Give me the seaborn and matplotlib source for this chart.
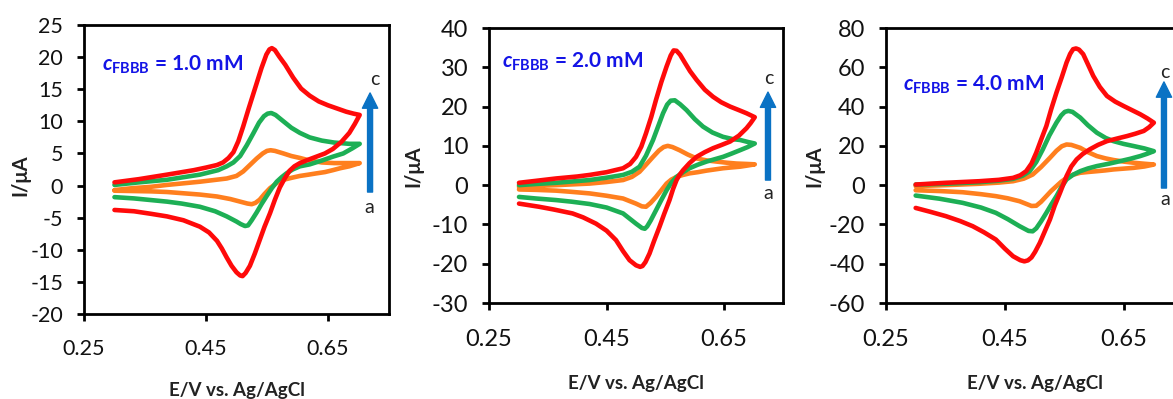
import matplotlib
matplotlib.use("Agg")
import matplotlib.pyplot as plt
import seaborn as sns
import pandas as pd

# ---------------- data ----------------
# Each list runs forward scan 0.30 -> 0.70 V, then back 0.70 -> 0.30 V.
# Panel 1: c_FBBB = 1.0 mM
E_1a = [0.30, 0.33, 0.359, 0.386, 0.44, 0.484, 0.500, 0.511, 0.522, 0.533, 0.543, 0.550, 0.556, 0.563,
        0.577, 0.590, 0.604, 0.620, 0.640, 0.660, 0.680, 0.702,
        0.685, 0.670, 0.658, 0.645, 0.631, 0.618, 0.604, 0.590, 0.577, 0.566, 0.555, 0.546, 0.538,
        0.531, 0.525, 0.518, 0.506, 0.49, 0.468, 0.44, 0.413, 0.386, 0.359, 0.33, 0.30]
I_1a = [-0.7, -0.4, -0.2, 0.1, 0.6, 1.1, 1.5, 2.2, 3.2, 4.2, 5.0, 5.4, 5.5, 5.4,
        5.0, 4.6, 4.3, 3.9, 3.6, 3.5, 3.5, 3.5,
        3.0, 2.7, 2.4, 2.1, 1.9, 1.7, 1.5, 1.2, 0.9, 0.4, -0.4, -1.3, -2.2,
        -2.7, -2.9, -2.8, -2.5, -2.1, -1.7, -1.4, -1.2, -1.0, -0.9, -0.85, -0.8]
E_1b = [0.30, 0.34, 0.386, 0.44, 0.47, 0.484, 0.495, 0.506, 0.517, 0.528, 0.537, 0.545, 0.551, 0.557,
        0.564, 0.577, 0.590, 0.604, 0.620, 0.640, 0.660, 0.685, 0.702,
        0.690, 0.675, 0.658, 0.640, 0.620, 0.604, 0.592, 0.582, 0.574, 0.566, 0.558, 0.549, 0.541,
        0.533, 0.525, 0.519, 0.514, 0.507, 0.500, 0.484, 0.465, 0.44, 0.41, 0.386, 0.332, 0.30]
I_1b = [0.1, 0.5, 0.9, 1.7, 2.4, 3.0, 3.6, 4.6, 6.3, 8.2, 9.8, 10.8, 11.2, 11.3,
        11.0, 10.0, 9.0, 8.2, 7.5, 7.0, 6.7, 6.5, 6.5,
        5.8, 5.0, 4.5, 3.9, 3.3, 3.0, 2.5, 1.9, 1.3, 0.6, -0.4, -1.7, -2.9,
        -4.2, -5.4, -6.2, -6.3, -6.0, -5.6, -4.8, -4.0, -3.3, -2.8, -2.5, -2.0, -1.8]
E_1c = [0.30, 0.34, 0.386, 0.43, 0.45, 0.468, 0.478, 0.487, 0.495, 0.503, 0.511, 0.520, 0.530, 0.541,
        0.549, 0.554, 0.558, 0.563, 0.570, 0.580, 0.593, 0.606, 0.620, 0.635, 0.650, 0.665, 0.680,
        0.692, 0.702,
        0.694, 0.685, 0.672, 0.658, 0.645, 0.631, 0.617, 0.604, 0.595, 0.587, 0.579, 0.571, 0.563,
        0.555, 0.546, 0.538, 0.530, 0.522, 0.515, 0.510, 0.506, 0.500, 0.492, 0.484, 0.476, 0.468,
        0.455, 0.44, 0.413, 0.386, 0.36, 0.332, 0.30]
I_1c = [0.5, 1.0, 1.7, 2.4, 2.8, 3.2, 3.6, 4.3, 5.2, 6.9, 9.2, 12.0, 15.0, 18.3,
        20.4, 21.2, 21.4, 21.1, 20.1, 18.8, 16.8, 15.1, 14.0, 13.1, 12.5, 12.0, 11.5,
        11.2, 11.0,
        9.6, 8.2, 6.8, 5.7, 5.0, 4.5, 4.0, 3.5, 3.0, 2.3, 1.1, -0.3, -2.2,
        -4.3, -6.4, -8.5, -10.6, -12.5, -13.6, -14.1, -14.0, -13.5, -12.5, -11.2, -9.8, -8.6,
        -7.3, -6.4, -5.4, -4.8, -4.4, -4.0, -3.8]

# Panel 2: c_FBBB = 2.0 mM
E_2a = [0.301, 0.33, 0.364, 0.421, 0.45, 0.478, 0.493, 0.506, 0.517, 0.529, 0.539, 0.547, 0.554,
        0.562, 0.574, 0.588, 0.603, 0.62, 0.637, 0.655, 0.671, 0.688, 0.702,
        0.69, 0.677, 0.662, 0.648, 0.634, 0.62, 0.605, 0.591, 0.58, 0.569, 0.560, 0.552, 0.543,
        0.534, 0.525, 0.517, 0.510, 0.50, 0.478, 0.45, 0.421, 0.39, 0.364, 0.33, 0.301]
I_2a = [-0.4, -0.2, 0.0, 0.4, 0.8, 1.3, 2.1, 3.4, 5.2, 7.2, 8.8, 9.7, 10.0,
        9.7, 8.9, 7.8, 6.8, 6.3, 6.0, 5.7, 5.5, 5.4, 5.3,
        5.0, 4.7, 4.5, 4.3, 4.0, 3.7, 3.3, 3.0, 2.6, 2.1, 1.4, 0.4, -1.3,
        -3.0, -4.5, -5.5, -5.4, -4.7, -3.4, -2.7, -2.1, -1.7, -1.4, -1.2, -1.1]
E_2b = [0.301, 0.33, 0.364, 0.421, 0.45, 0.478, 0.493, 0.506, 0.517, 0.529, 0.538, 0.546, 0.553,
        0.559, 0.566, 0.575, 0.586, 0.600, 0.614, 0.630, 0.648, 0.665, 0.677, 0.690, 0.702,
        0.690, 0.677, 0.662, 0.648, 0.634, 0.62, 0.605, 0.591, 0.58, 0.569, 0.56, 0.552, 0.543,
        0.534, 0.525, 0.519, 0.515, 0.510, 0.50, 0.478, 0.45, 0.421, 0.39, 0.364, 0.33, 0.301]
I_2b = [0.0, 0.3, 0.6, 1.3, 1.9, 2.6, 3.4, 4.7, 7.5, 11.5, 15.1, 18.3, 20.5,
        21.5, 21.6, 20.6, 19.1, 16.8, 14.9, 13.4, 12.3, 11.7, 11.5, 11.0, 10.6,
        9.7, 8.9, 8.0, 7.2, 6.6, 6.0, 5.2, 4.3, 3.3, 2.1, 0.6, -1.3, -3.8,
        -6.4, -9.0, -10.5, -11.1, -10.9, -9.8, -7.2, -5.7, -4.8, -4.2, -3.8, -3.4, -3.0]
E_2c = [0.301, 0.33, 0.364, 0.40, 0.421, 0.45, 0.478, 0.490, 0.50, 0.509, 0.517, 0.526, 0.534,
        0.543, 0.552, 0.559, 0.564, 0.569, 0.575, 0.583, 0.592, 0.603, 0.617, 0.631, 0.645, 0.66,
        0.675, 0.688, 0.702,
        0.695, 0.688, 0.675, 0.66, 0.645, 0.631, 0.617, 0.603, 0.591, 0.58, 0.574, 0.569, 0.563,
        0.557, 0.548, 0.54, 0.531, 0.523, 0.516, 0.511, 0.507, 0.50, 0.489, 0.478, 0.466, 0.45,
        0.432, 0.41, 0.392, 0.36, 0.335, 0.301]
I_2c = [0.6, 1.1, 1.7, 2.2, 2.6, 3.3, 4.3, 5.4, 7.2, 9.8, 13.2, 17.4, 21.7,
        26.2, 30.2, 33.0, 34.3, 34.2, 33.2, 31.2, 29.0, 26.8, 24.3, 22.5, 21.1, 20.0,
        19.1, 18.3, 17.3,
        15.8, 14.5, 12.6, 11.1, 10.2, 9.4, 8.4, 7.2, 5.6, 3.8, 2.6, 1.3, -1.0,
        -3.8, -7.3, -10.6, -14.1, -17.4, -19.6, -20.6, -20.8, -20.4, -19.1, -16.8, -14.0, -11.6,
        -9.8, -8.2, -7.2, -6.2, -5.5, -4.7]

# Panel 3: c_FBBB = 4.0 mM
E_3a = [0.30, 0.351, 0.407, 0.44, 0.464, 0.482, 0.497, 0.511, 0.526, 0.537, 0.546, 0.554, 0.562,
        0.577, 0.590, 0.605, 0.620, 0.633, 0.650, 0.667, 0.685, 0.701,
        0.685, 0.667, 0.650, 0.633, 0.619, 0.605, 0.590, 0.577, 0.565, 0.554, 0.545, 0.537, 0.528,
        0.52, 0.511, 0.503, 0.495, 0.475, 0.455, 0.435, 0.41, 0.379, 0.34, 0.30]
I_3a = [-0.5, 0.0, 0.7, 1.3, 2.0, 3.3, 5.4, 9.2, 13.9, 17.5, 19.8, 20.7, 20.5,
        19.0, 16.8, 14.8, 13.6, 12.8, 12.0, 11.4, 10.9, 10.5,
        9.5, 8.8, 8.4, 8.0, 7.5, 7.1, 6.7, 6.3, 5.3, 3.7, 1.7, -0.5, -3.0,
        -5.6, -8.5, -10.5, -10.6, -8.2, -6.7, -5.6, -4.6, -3.6, -3.0, -2.6]
E_3b = [0.30, 0.351, 0.407, 0.44, 0.464, 0.480, 0.492, 0.503, 0.514, 0.525, 0.537, 0.545, 0.551,
        0.557, 0.564, 0.577, 0.590, 0.605, 0.620, 0.633, 0.650, 0.667, 0.685, 0.701,
        0.690, 0.678, 0.661, 0.644, 0.625, 0.605, 0.590, 0.577, 0.565, 0.554, 0.545, 0.537, 0.528,
        0.52, 0.511, 0.503, 0.497, 0.490, 0.475, 0.455, 0.435, 0.41, 0.379, 0.34, 0.30]
I_3b = [0.3, 0.7, 1.5, 2.3, 3.2, 4.8, 7.1, 11.8, 18.2, 25.3, 31.8, 35.5, 37.3,
        37.8, 37.3, 34.4, 30.5, 26.7, 24.0, 22.4, 21.0, 19.9, 18.7, 17.3,
        16.0, 14.8, 13.4, 12.2, 10.9, 9.7, 8.5, 7.1, 5.3, 2.9, -1.2, -5.6, -10.0,
        -14.1, -18.5, -22.0, -23.5, -23.3, -20.9, -17.3, -14.1, -11.4, -9.0, -6.9, -5.3]
E_3c = [0.30, 0.351, 0.407, 0.44, 0.464, 0.476, 0.486, 0.495, 0.503, 0.511, 0.52, 0.528, 0.537,
        0.546, 0.554, 0.560, 0.565, 0.570, 0.575, 0.582, 0.590, 0.599, 0.610, 0.622, 0.636, 0.65,
        0.664, 0.678, 0.690, 0.701,
        0.693, 0.684, 0.670, 0.656, 0.64, 0.622, 0.607, 0.593, 0.581, 0.571, 0.562, 0.554, 0.543,
        0.534, 0.526, 0.517, 0.509, 0.501, 0.495, 0.489, 0.483, 0.476, 0.464, 0.45, 0.435, 0.415,
        0.396, 0.375, 0.351, 0.325, 0.30]
I_3c = [0.3, 1.2, 2.0, 2.7, 3.7, 5.0, 7.1, 11.0, 16.5, 23.0, 30.1, 38.5, 47.1,
        55.0, 62.4, 66.8, 69.2, 69.6, 69.0, 66.7, 61.5, 55.6, 50.0, 45.4, 42.5, 40.3,
        38.2, 36.1, 34.0, 31.8,
        29.5, 27.6, 26.2, 25.0, 23.8, 22.4, 20.5, 18.2, 15.8, 13.1, 9.5, 4.6, -3.9,
        -10.5, -17.5, -23.8, -29.4, -34.0, -36.8, -38.3, -38.8, -38.2, -36.2, -32.3, -27.7, -24.0,
        -20.9, -18.3, -15.8, -13.6, -11.6]

scan_labels = ["a", "b", "c"]
conc_labels = ["1.0", "2.0", "4.0"]
y_limits = [(-20, 25), (-30, 40), (-60, 80)]
y_steps = [5, 10, 20]
x_ticks = [0.25, 0.45, 0.65]
x_tick_labels = ["0.25", "0.45", "0.65"]

# ---------------- style ----------------
sns.set_theme(style="white")
plt.rcParams["font.family"] = ["Lato", "DejaVu Sans"]
plt.rcParams["axes.unicode_minus"] = False
plt.rcParams["mathtext.fontset"] = "custom"
plt.rcParams["mathtext.it"] = "Lato:italic:bold"
plt.rcParams["mathtext.rm"] = "Lato:bold"
plt.rcParams["mathtext.bf"] = "Lato:bold"

palette = {"a": "#FF7F1E", "b": "#1DAF55", "c": "#FF0A0A"}
text_blue = "#1414E6"
arrow_blue = "#0A72C4"

fig = plt.figure(figsize=(11.73, 3.99), dpi=100)

rects = [(0.0716, 0.2130, 0.2600, 0.7243),
         (0.4169, 0.2406, 0.2506, 0.6892),
         (0.7553, 0.2406, 0.2532, 0.6892)]

ann_text_pos = [(0.059, 0.862), (0.044, 0.876), (0.057, 0.793)]
arrow_x = [0.938, 0.949, 0.936]
arrow_y = [(0.422, 0.765), (0.447, 0.767), (0.418, 0.804)]
c_pos = [(0.954, 0.813), (0.952, 0.818), (0.939, 0.840)]
a_pos = [(0.934, 0.370), (0.949, 0.400), (0.939, 0.375)]
ylab_pos = [(-0.21, 0.48), (-0.258, 0.497), (-0.24, 0.497)]
xlab_y = [-0.263, -0.291, -0.291]
tick_fs = [15.5, 17, 17]
xpad = [13, 13.5, 13.5]

curves = [
    [(E_1a, I_1a), (E_1b, I_1b), (E_1c, I_1c)],
    [(E_2a, I_2a), (E_2b, I_2b), (E_2c, I_2c)],
    [(E_3a, I_3a), (E_3b, I_3b), (E_3c, I_3c)],
]

for p in range(3):
    ax = fig.add_axes(rects[p])
    frames = []
    for s, (E, I) in zip(scan_labels, curves[p]):
        n = min(len(E), len(I))
        frames.append(pd.DataFrame({"E": E[:n], "I": I[:n], "scan": s}))
    df = pd.concat(frames, ignore_index=True)
    sns.lineplot(data=df, x="E", y="I", hue="scan", hue_order=scan_labels,
                 palette=palette, sort=False, estimator=None, legend=False,
                 linewidth=3.3, ax=ax, solid_joinstyle="round", solid_capstyle="round")

    ax.set_xlim(0.25, 0.75)
    lo, hi = y_limits[p]
    ax.set_ylim(lo, hi)
    ax.set_yticks(list(range(lo, hi + 1, y_steps[p])))
    ax.set_xticks(x_ticks)
    ax.set_xticklabels(x_tick_labels)

    for sp in ax.spines.values():
        sp.set_visible(True)
        sp.set_color("black")
        sp.set_linewidth(2.0)
    ax.tick_params(axis="both", which="major", direction="out", length=5, width=2.0,
                   color="black", labelcolor="#111111", labelsize=tick_fs[p])
    ax.tick_params(axis="y", left=True, right=False, pad=10)
    ax.tick_params(axis="x", bottom=True, top=False, pad=xpad[p])
    ax.grid(False)

    ax.set_xlabel("E/V vs. Ag/AgCl", fontsize=13.5, fontweight="bold", color="#222222")
    ax.xaxis.set_label_coords(0.5, xlab_y[p])
    ax.xaxis.label.set_va("center")
    ax.set_ylabel("I/μA", fontsize=14.5, fontweight="bold", color="#222222")
    ax.yaxis.set_label_coords(*ylab_pos[p])
    ax.yaxis.label.set_va("center")

    ax.text(ann_text_pos[p][0], ann_text_pos[p][1],
            r"$\mathit{c}_{\mathrm{FBBB}}$" + " = " + conc_labels[p] + " mM",
            transform=ax.transAxes, color=text_blue, fontsize=15, fontweight="bold",
            va="center", ha="left")

    ax.annotate("", xy=(arrow_x[p], arrow_y[p][1]), xytext=(arrow_x[p], arrow_y[p][0]),
                xycoords="axes fraction", textcoords="axes fraction",
                arrowprops=dict(width=3.6, headwidth=11, headlength=11, color=arrow_blue, shrink=0.0))
    ax.text(c_pos[p][0], c_pos[p][1], "c", transform=ax.transAxes, fontsize=14,
            color="#222222", ha="center", va="center")
    ax.text(a_pos[p][0], a_pos[p][1], "a", transform=ax.transAxes, fontsize=14,
            color="#222222", ha="center", va="center")

fig.savefig("out.png", dpi=100)
